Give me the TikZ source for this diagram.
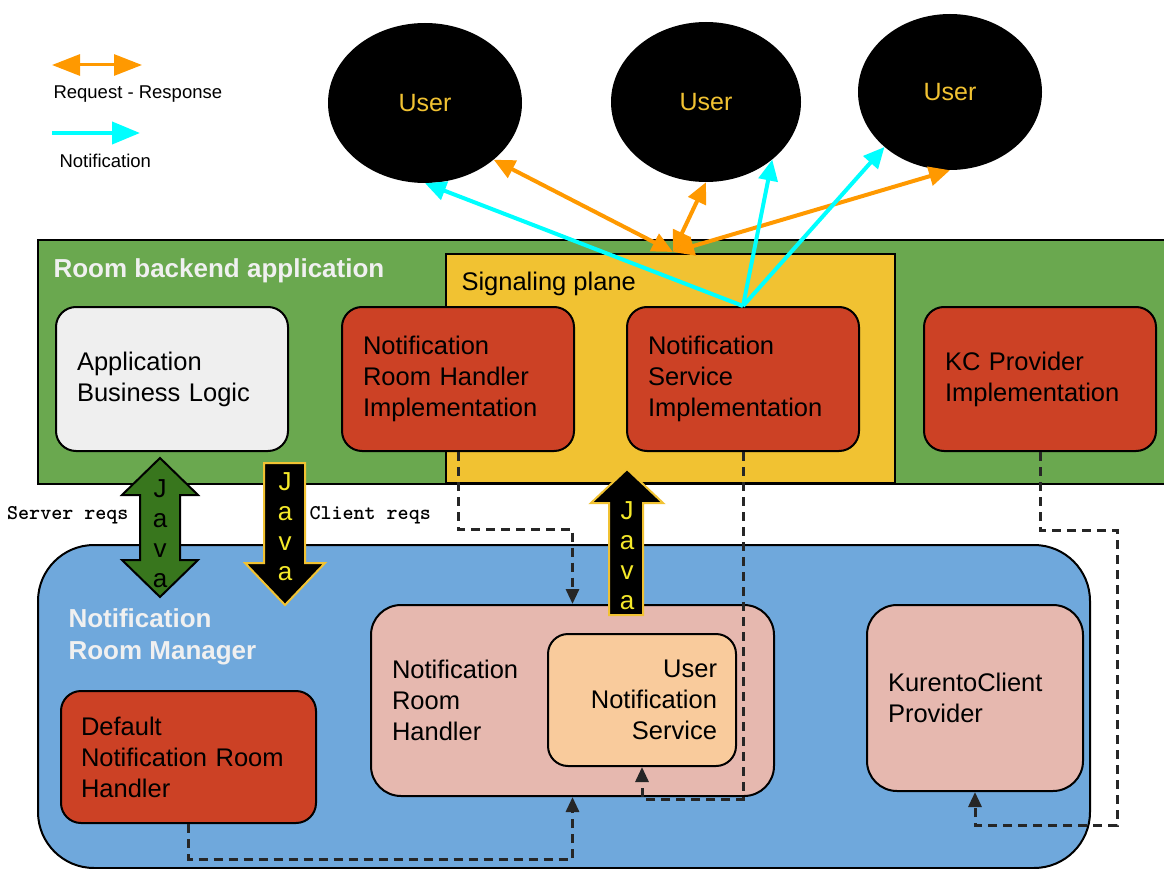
\documentclass[tikz,border=0pt]{standalone}
\usepackage{fontspec}
\setmainfont{Liberation Sans}
\usetikzlibrary{arrows.meta,shapes.geometric}

\definecolor{backendGreen}{HTML}{6AA84F}
\definecolor{signalYellow}{HTML}{F1C232}
\definecolor{implRed}{HTML}{CC4125}
\definecolor{logicGray}{HTML}{EFEFEF}
\definecolor{managerBlue}{HTML}{6FA8DC}
\definecolor{handlerPink}{HTML}{E6B8AF}
\definecolor{servicePeach}{HTML}{F9CB9C}
\definecolor{javaGreen}{HTML}{38761D}
\definecolor{javaYellow}{HTML}{F5E92A}
\definecolor{reqOrange}{HTML}{FF9900}
\definecolor{notifCyan}{HTML}{00FFFF}
\definecolor{userText}{HTML}{F1C232}

\begin{document}
\begin{tikzpicture}[x=1pt, y=-1pt,
  box/.style = {draw, line width=2pt, rounded corners=20pt, anchor=north west, align=left, inner xsep=21pt, inner ysep=0pt, font=\fontsize{25.5}{31}\selectfont},
  user/.style = {ellipse, fill=black, text=userText, font=\fontsize{25}{30}\selectfont},
  req/.style = {draw=reqOrange, line width=4pt, {Triangle[length=21pt,width=19pt]}-{Triangle[length=21pt,width=19pt]}},
  note/.style = {draw=notifCyan, line width=4pt, -{Triangle[length=21pt,width=19pt]}},
  dep/.style = {draw=black!85, line width=3pt, dash pattern=on 9pt off 6pt, -{Triangle[length=15pt,width=13pt]}},
  java/.style = {align=center, inner sep=0pt, font=\fontsize{26}{30}\selectfont},
  title/.style = {anchor=west, align=left, text=white!94!black, font=\bfseries\fontsize{26}{32}\selectfont},
  small/.style = {anchor=west, font=\fontsize{18.5}{22}\selectfont},
  reqs/.style = {font=\ttfamily\bfseries\fontsize{21}{24}\selectfont}]
  \useasboundingbox (0,0) rectangle (1164,869);

  % legend
  \coordinate (reqA) at (52,65);
  \coordinate (reqB) at (142,65);
  \draw[req, line width=3pt, {Triangle[length=28pt,width=21pt]}-{Triangle[length=28pt,width=21pt]}] (reqA) -- (reqB);
  \node[small] (reqlabel) at (50,94) {Request - Response};
  \coordinate (noteA) at (52,133);
  \coordinate (noteB) at (140,133);
  \draw[note, -{Triangle[length=28pt,width=22pt]}] (noteA) -- (noteB);
  \node[small] (notelabel) at (56,161) {Notification};

  % room backend application
  \filldraw[fill=backendGreen, draw=black, line width=2pt] (38,240) rectangle (1172,484);
  \node[title] (backend) at (50,271) {Room backend application};
  \filldraw[fill=signalYellow, draw=black, line width=2pt] (446,254) rectangle (895,483);
  \node[anchor=west, font=\fontsize{25.5}{30}\selectfont] (signaling) at (458,284) {Signaling plane};

  \node[box, fill=logicGray, text width=190pt, minimum height=144pt] (logic) at (55,306) {Application\\Business Logic};
  \node[box, fill=implRed, text width=190pt, minimum height=144pt] (nrhimpl) at (341,306) {Notification\\Room Handler\\Implementation};
  \node[box, fill=implRed, text width=190pt, minimum height=144pt] (nsimpl) at (626,306) {Notification\\Service\\Implementation};
  \node[box, fill=implRed, text width=190pt, minimum height=144pt] (kcimpl) at (923,306) {KC Provider\\Implementation};

  % notification room manager
  \filldraw[fill=managerBlue, draw=black, line width=2pt, rounded corners=56pt] (38,545) rectangle (1090,868);
  \node[title] (manager) at (65,637) {Notification\\Room Manager};

  \node[box, fill=implRed, text width=215pt, minimum height=132pt, inner xsep=20pt] (default) at (60,690) {Default\\Notification Room\\Handler};
  \node[box, fill=handlerPink, rounded corners=30pt, text width=361pt, minimum height=191pt] (nrh) at (370,604) {Notification\\Room\\Handler};
  \node[box, fill=servicePeach, align=right, inner xsep=19pt, text width=150pt, minimum height=132pt] (uns) at (547,633) {User\\Notification\\Service};
  \node[box, fill=handlerPink, rounded corners=30pt, text width=174pt, minimum height=186pt] (kcp) at (866,604) {KurentoClient\\Provider};

  % dependencies
  \draw[dep] (nrhimpl.south) -- ++(0,77) -| (nrh.north);
  \draw[dep] (nsimpl.south) -- ++(0,347) -| (uns.south);
  \draw[dep] (default.south) -- ++(0,35) -| (nrh.south);
  \draw[dep] (kcimpl.south) -- ++(0,78) -- ++(77,0) -- ++(0,295) -| (kcp.south);

  % java calls
  \filldraw[fill=javaGreen, draw=black, line width=2pt] (140,495) -- (122,495) -- (160,458) -- (198,495) -- (180,495)
    -- (180,560) -- (198,560) -- (160,597) -- (122,560) -- (140,560) -- cycle;
  \node[java] (serverjava) at (160,534) {J\\a\\v\\a};
  \node[reqs, anchor=east] (serverreqs) at (132,515) {Server reqs};

  \filldraw[fill=black, draw=signalYellow, line width=2pt] (264,463) -- (305,463) -- (305,563) -- (325,563) -- (285,605)
    -- (245,563) -- (264,563) -- cycle;
  \node[java, text=javaYellow] (clientjava) at (285,527) {J\\a\\v\\a};
  \node[reqs, anchor=west] (clientreqs) at (306,515) {Client reqs};

  \filldraw[fill=black, draw=signalYellow, line width=2pt] (609,615) -- (609,503) -- (591,503) -- (627,469) -- (663,503)
    -- (643,503) -- (643,615) -- cycle;
  \node[java, text=javaYellow] (notifjava) at (627,556) {J\\a\\v\\a};

  % users
  \node[user, minimum width=194pt, minimum height=160pt] (user1) at (425,103) {User};
  \node[user, minimum width=190pt, minimum height=160pt] (user2) at (706,102) {User};
  \node[user, minimum width=184pt, minimum height=156pt] (user3) at (950,92) {User};

  \coordinate (hub) at (673,252);
  \draw[req] (hub) -- (user1.south east);
  \draw[req] (hub) -- (user2.south);
  \draw[req] (hub) -- (user3.south);
  \draw[note] (nsimpl.north) -- (user1.south);
  \draw[note] (nsimpl.north) -- (user2.-41);
  \draw[note] (nsimpl.north) -- (user3.-140);
\end{tikzpicture}
\end{document}
